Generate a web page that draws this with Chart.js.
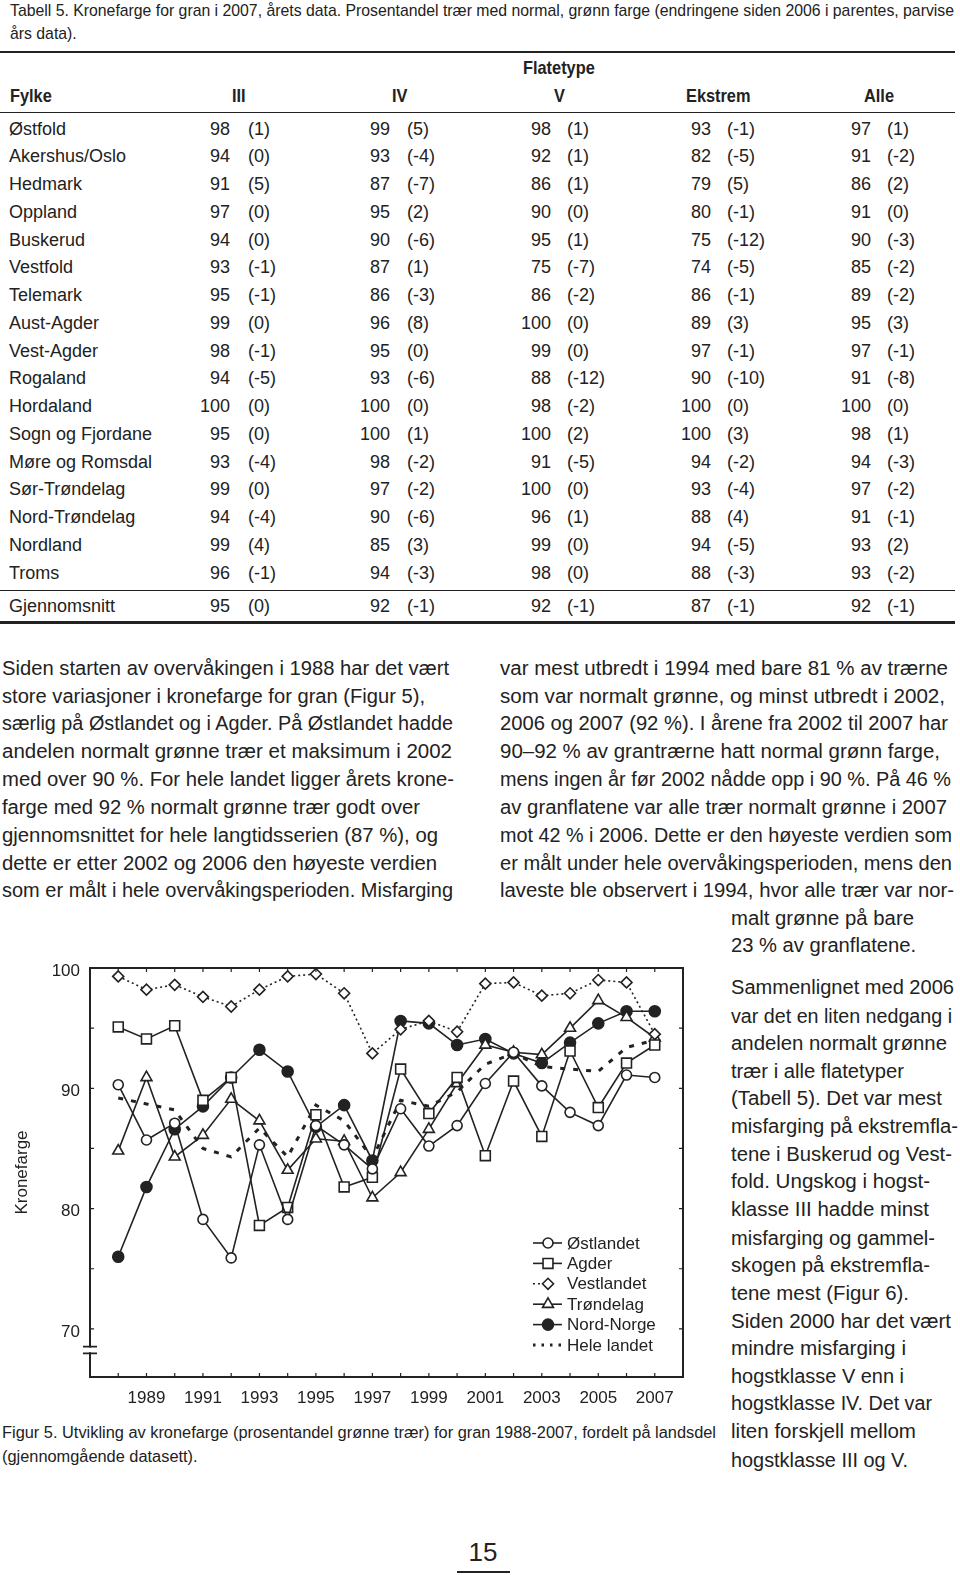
<!DOCTYPE html>
<html>
<head>
<meta charset="utf-8">
<title>Kronefarge for gran</title>
<script src="https://cdn.jsdelivr.net/npm/chart.js@4.4.0/dist/chart.umd.min.js"></script>
<style>
  body { margin: 0; width: 960px; height: 1575px; position: relative; background: #fff;
         font-family: "Liberation Sans", Arial, sans-serif; color: #222; overflow: hidden; }
  .l { position: absolute; white-space: nowrap; line-height: 1; transform-origin: 0 50%; }
  .rule { position: absolute; left: 0; width: 955px; background: #222; }
  #chartBox { position: absolute; left: 0; top: 940px; width: 700px; height: 480px; }
</style>
</head>
<body>
<div class="rule" style="top:51px;height:2px"></div>
<div class="rule" style="top:112px;height:1px"></div>
<div class="rule" style="top:590px;height:1px"></div>
<div class="rule" style="top:621px;height:2.5px"></div>
<div style="position:absolute;left:457px;top:1571px;width:53px;height:2px;background:#222"></div>
<div id="chartBox"><canvas id="kroneChart" width="700" height="480"></canvas></div>

<script>
// Figur 5: kronefarge (% grønne trær), 1988-2007
const years = [1988, 1989, 1990, 1991, 1992, 1993, 1994, 1995, 1996, 1997,
               1998, 1999, 2000, 2001, 2002, 2003, 2004, 2005, 2006, 2007];
const ostlandet  = [90.3, 85.7, 87.1, 79.1, 75.9, 85.3, 79.1, 86.9, 85.3, 83.3, 88.3, 85.2, 86.9, 90.4, 93.0, 90.2, 88.0, 86.9, 91.1, 90.9];
const agder      = [95.1, 94.1, 95.2, 89.0, 90.9, 78.6, 80.1, 87.8, 81.8, 82.6, 91.6, 87.9, 90.9, 84.4, 90.6, 86.0, 93.1, 88.4, 92.1, 93.6];
const vestlandet = [99.3, 98.2, 98.6, 97.6, 96.8, 98.2, 99.3, 99.5, 97.9, 92.9, 94.9, 95.6, 94.7, 98.7, 98.8, 97.7, 97.9, 99.0, 98.8, 94.5];
const trondelag  = [84.8, 90.9, 84.3, 86.1, 89.1, 87.3, 83.2, 85.8, 85.6, 80.9, 83.0, 86.6, 90.4, 93.6, 93.0, 92.8, 95.0, 97.3, 95.9, 94.2];
const nordNorge  = [76.0, 81.8, 86.6, 88.5, 90.9, 93.2, 91.4, 86.8, 88.6, 84.0, 95.6, 95.4, 93.6, 94.1, 92.9, 92.1, 93.8, 95.4, 96.4, 96.4];
const heleLandet = [89.2, 88.7, 88.2, 85.0, 84.3, 86.7, 84.3, 88.6, 87.3, 84.2, 89.0, 88.5, 89.7, 92.0, 92.9, 91.8, 91.6, 91.4, 93.4, 94.0];
const yTickLabels = [70, 80, 90, 100];
const xTickLabels = [1989, 1991, 1993, 1995, 1997, 1999, 2001, 2003, 2005, 2007];

// Tabell 5
const fylker = ['Østfold', 'Akershus/Oslo', 'Hedmark', 'Oppland', 'Buskerud', 'Vestfold', 'Telemark',
  'Aust-Agder', 'Vest-Agder', 'Rogaland', 'Hordaland', 'Sogn og Fjordane', 'Møre og Romsdal',
  'Sør-Trøndelag', 'Nord-Trøndelag', 'Nordland', 'Troms'];
const verdiIII  = [98, 94, 91, 97, 94, 93, 95, 99, 98, 94, 100, 95, 93, 99, 94, 99, 96];
const endrIII   = [1, 0, 5, 0, 0, -1, -1, 0, -1, -5, 0, 0, -4, 0, -4, 4, -1];
const verdiIV   = [99, 93, 87, 95, 90, 87, 86, 96, 95, 93, 100, 100, 98, 97, 90, 85, 94];
const endrIV    = [5, -4, -7, 2, -6, 1, -3, 8, 0, -6, 0, 1, -2, -2, -6, 3, -3];
const verdiV    = [98, 92, 86, 90, 95, 75, 86, 100, 99, 88, 98, 100, 91, 100, 96, 99, 98];
const endrV     = [1, 1, 1, 0, 1, -7, -2, 0, 0, -12, -2, 2, -5, 0, 1, 0, 0];
const verdiEks  = [93, 82, 79, 80, 75, 74, 86, 89, 97, 90, 100, 100, 94, 93, 88, 94, 88];
const endrEks   = [-1, -5, 5, -1, -12, -5, -1, 3, -1, -10, 0, 3, -2, -4, 4, -5, -3];
const verdiAlle = [97, 91, 86, 91, 90, 85, 89, 95, 97, 91, 100, 98, 94, 97, 91, 93, 93];
const endrAlle  = [1, -2, 2, 0, -3, -2, -2, 3, -1, -8, 0, 1, -3, -2, -1, 2, -2];
const snittVerdi = [95, 92, 92, 87, 92];
const snittEndr  = [0, -1, -1, -1, -1];

const ink = '#222';

function place(txt, x, y, size, opts = {}) {
  const d = document.createElement('div');
  d.className = 'l';
  d.textContent = txt;
  d.style.left = x + 'px';
  d.style.top = y + 'px';
  d.style.fontSize = size + 'px';
  if (opts.bold) d.style.fontWeight = 'bold';
  document.body.appendChild(d);
  let s = opts.scale || 1;
  const w = d.getBoundingClientRect().width;
  if (opts.w) s = opts.w / w;
  if (opts.align === 'right') d.style.left = (x - w * s) + 'px';
  if (opts.align === 'center') d.style.left = (x - w * s / 2) + 'px';
  d.style.transform = `translateY(-50%) scaleX(${s})`;
  return s;
}

// caption
const capScale = place('Tabell 5. Kronefarge for gran i 2007, årets data. Prosentandel trær med normal, grønn farge (endringene siden 2006 i parentes, parvise', 10, 10, 17, { w: 944 });
place('års data).', 10, 33, 17, { scale: capScale });

// table
place('Flatetype', 559, 67, 19, { bold: true, scale: 0.86, align: 'center' });
place('Fylke', 10, 95, 19, { bold: true, scale: 0.86 });
[['III', 239], ['IV', 400], ['V', 559], ['Ekstrem', 718], ['Alle', 879]].forEach(([t, x]) =>
  place(t, x, 95, 19, { bold: true, scale: 0.86, align: 'center' }));

const numRight = [230, 390, 551, 711, 871];
const parLeft = [248, 407, 567, 727, 887];
const cols = [[verdiIII, endrIII], [verdiIV, endrIV], [verdiV, endrV], [verdiEks, endrEks], [verdiAlle, endrAlle]];
fylker.forEach((f, i) => {
  const y = 128.6 + i * 27.75;
  place(f, 9, y, 18);
  cols.forEach(([v, e], c) => {
    place(String(v[i]), numRight[c], y, 18, { align: 'right' });
    place('(' + e[i] + ')', parLeft[c], y, 18);
  });
});
place('Gjennomsnitt', 9, 606, 18);
snittVerdi.forEach((v, c) => {
  place(String(v), numRight[c], 606, 18, { align: 'right' });
  place('(' + snittEndr[c] + ')', parLeft[c], 606, 18);
});

// body text: [text, x, y, endX]
const bodyLines = [
  ['Siden starten av overvåkingen i 1988 har det vært', 2, 668, 449],
  ['store variasjoner i kronefarge for gran (Figur 5),', 2, 695.5, 425],
  ['særlig på Østlandet og i Agder. På Østlandet hadde', 2, 723, 453],
  ['andelen normalt grønne trær et maksimum i 2002', 2, 751, 452],
  ['med over 90 %. For hele landet ligger årets krone-', 2, 779, 454],
  ['farge med 92 % normalt grønne trær godt over', 2, 807, 420],
  ['gjennomsnittet for hele langtidsserien (87 %), og', 2, 835, 438],
  ['dette er etter 2002 og 2006 den høyeste verdien', 2, 863, 437],
  ['som er målt i hele overvåkingsperioden. Misfarging', 2, 890, 453],
  ['var mest utbredt i 1994 med bare 81 % av trærne', 500, 668, 948],
  ['som var normalt grønne, og minst utbredt i 2002,', 500, 695.5, 945],
  ['2006 og 2007 (92 %). I årene fra 2002 til 2007 har', 500, 723, 948],
  ['90–92 % av grantrærne hatt normal grønn farge,', 500, 751, 940],
  ['mens ingen år før 2002 nådde opp i 90 %. På 46 %', 500, 779, 951],
  ['av granflatene var alle trær normalt grønne i 2007', 500, 807, 947],
  ['mot 42 % i 2006. Dette er den høyeste verdien som', 500, 835, 952],
  ['er målt under hele overvåkingsperioden, mens den', 500, 863, 952],
  ['laveste ble observert i 1994, hvor alle trær var nor-', 500, 890, 954],
  ['malt grønne på bare', 731, 918, 914],
  ['23 % av granflatene.', 731, 945, 916],
  ['Sammenlignet med 2006', 731, 987, 954],
  ['var det en liten nedgang i', 731, 1015.5, 952],
  ['andelen normalt grønne', 731, 1043, 947],
  ['trær i alle flatetyper', 731, 1071, 904],
  ['(Tabell 5). Det var mest', 731, 1098, 942],
  ['misfarging på ekstremfla-', 731, 1126, 958],
  ['tene i Buskerud og Vest-', 731, 1154, 952],
  ['fold. Ungskog i hogst-', 731, 1181, 930],
  ['klasse III hadde minst', 731, 1209, 929],
  ['misfarging og gammel-', 731, 1237.5, 935],
  ['skogen på ekstremfla-', 731, 1265, 930],
  ['tene mest (Figur 6).', 731, 1293, 909],
  ['Siden 2000 har det vært', 731, 1321, 951],
  ['mindre misfarging i', 731, 1348, 906],
  ['hogstklasse V enn i', 731, 1376, 904],
  ['hogstklasse IV. Det var', 731, 1403, 932],
  ['liten forskjell mellom', 731, 1431, 916],
  ['hogstklasse III og V.', 731, 1459.5, 908]
];
bodyLines.forEach(([t, x, y, e]) => place(t, x, y, 20, { w: e - x }));

const figScale = place('Figur 5. Utvikling av kronefarge (prosentandel grønne trær) for gran 1988-2007, fordelt på landsdel', 2, 1433, 16, { w: 714 });
place('(gjennomgående datasett).', 2, 1457, 16, { scale: figScale });
place('15', 483, 1552, 26, { align: 'center' });

// chart
const pts = vals => vals.map((v, i) => ({ x: years[i], y: v }));
const series = [
  { label: 'Østlandet', data: ostlandet, style: 'circle', r: 5, fill: '#fff' },
  { label: 'Agder', data: agder, style: 'rect', r: 7, fill: '#fff' },
  { label: 'Vestlandet', data: vestlandet, style: 'rectRot', r: 5.5, fill: '#fff', dash: [2, 3] },
  { label: 'Trøndelag', data: trondelag, style: 'triangle', r: 6.3, fill: '#fff' },
  { label: 'Nord-Norge', data: nordNorge, style: 'circle', r: 5.5, fill: ink },
  { label: 'Hele landet', data: heleLandet, style: false, r: 0, fill: ink, dash: [5, 8], width: 3 }
];

const framePlugin = {
  id: 'frame',
  afterDraw(chart) {
    const { ctx, chartArea: a, scales: { x, y } } = chart;
    ctx.save();
    ctx.strokeStyle = ink;
    ctx.lineWidth = 2;
    const b1 = y.getPixelForValue(68.45), b2 = y.getPixelForValue(68.05);
    ctx.beginPath();
    ctx.moveTo(a.left, b1);
    ctx.lineTo(a.left, a.top);
    ctx.lineTo(a.right, a.top);
    ctx.lineTo(a.right, a.bottom);
    ctx.lineTo(a.left, a.bottom);
    ctx.lineTo(a.left, b2);
    ctx.stroke();
    ctx.lineWidth = 1.8;
    ctx.beginPath();
    ctx.moveTo(a.left - 7, b1 - 1); ctx.lineTo(a.left + 7, b1 - 1);
    ctx.moveTo(a.left - 7, b2 + 1); ctx.lineTo(a.left + 7, b2 + 1);
    ctx.stroke();
    ctx.lineWidth = 1.2;
    ctx.beginPath();
    x.ticks.forEach(t => {
      if (t.value <= x.min || t.value >= x.max) return;
      const px = x.getPixelForValue(t.value);
      ctx.moveTo(px, a.top); ctx.lineTo(px, a.top + 4);
      ctx.moveTo(px, a.bottom); ctx.lineTo(px, a.bottom - 4);
    });
    y.ticks.forEach(t => {
      if (t.value % 5 !== 0 || t.value >= y.max) return;
      const py = y.getPixelForValue(t.value);
      ctx.moveTo(a.left, py); ctx.lineTo(a.left + 4, py);
      ctx.moveTo(a.right, py); ctx.lineTo(a.right - 4, py);
    });
    ctx.stroke();
    ctx.restore();
  }
};

const legendPlugin = {
  id: 'boxLegend',
  afterDraw(chart) {
    const { ctx, chartArea: a } = chart;
    ctx.save();
    ctx.font = '17px "Liberation Sans", Arial, sans-serif';
    ctx.textBaseline = 'middle';
    series.forEach((s, i) => {
      const yy = a.bottom - 134 + i * 20.4;
      const x0 = a.right - 150, x1 = a.right - 121, xm = a.right - 135;
      ctx.strokeStyle = ink;
      if (s.label === 'Hele landet') {
        ctx.lineWidth = 3; ctx.setLineDash([2.5, 6]);
        ctx.beginPath(); ctx.moveTo(x0, yy); ctx.lineTo(x1 + 2, yy); ctx.stroke();
      } else if (s.dash) {
        ctx.lineWidth = 1.5; ctx.setLineDash(s.dash);
        ctx.beginPath(); ctx.moveTo(x0, yy); ctx.lineTo(xm - 6, yy); ctx.stroke();
      } else {
        ctx.lineWidth = 1.6; ctx.setLineDash([]);
        ctx.beginPath(); ctx.moveTo(x0, yy); ctx.lineTo(x1, yy); ctx.stroke();
      }
      ctx.setLineDash([]);
      if (s.r > 0) {
        ctx.fillStyle = s.fill;
        ctx.lineWidth = 1.6;
        Chart.helpers.drawPoint(ctx, { pointStyle: s.style, radius: s.r, borderWidth: 1.6, rotation: 0 }, xm, yy);
      }
      ctx.fillStyle = ink;
      ctx.fillText(s.label, a.right - 116, yy + 1);
    });
    ctx.restore();
  }
};

new Chart(document.getElementById('kroneChart'), {
  type: 'line',
  data: {
    datasets: series.map(s => ({
      label: s.label,
      data: pts(s.data),
      borderColor: ink,
      borderWidth: s.width || 1.6,
      borderDash: s.dash || [],
      pointStyle: s.style,
      pointRadius: s.r,
      pointBackgroundColor: s.fill,
      pointBorderColor: ink,
      pointBorderWidth: 1.6,
      tension: 0,
      fill: false
    }))
  },
  options: {
    responsive: false,
    animation: false,
    layout: { padding: { top: 28, right: 17, left: 0, bottom: 0 } },
    plugins: { legend: { display: false }, tooltip: { enabled: false } },
    scales: {
      x: {
        type: 'linear', min: 1987, max: 2008,
        grid: { display: false, drawTicks: false },
        border: { display: false },
        afterFit: s => { s.height = 43; },
        ticks: {
          stepSize: 1, autoSkip: false, maxRotation: 0, padding: 11,
          color: ink, font: { size: 17, family: '"Liberation Sans", Arial, sans-serif' },
          callback: v => xTickLabels.includes(v) ? String(v) : ''
        }
      },
      y: {
        min: 66, max: 100,
        grid: { display: false, drawTicks: false },
        border: { display: false },
        afterFit: s => { s.width = 90; },
        title: { display: true, text: 'Kronefarge', color: ink, padding: { top: 12, bottom: 0 },
                 font: { size: 17, family: '"Liberation Sans", Arial, sans-serif' } },
        ticks: {
          stepSize: 5, padding: 10, labelOffset: 3, color: ink,
          font: { size: 17, family: '"Liberation Sans", Arial, sans-serif' },
          callback: v => yTickLabels.includes(v) ? String(v) : ''
        }
      }
    }
  },
  plugins: [framePlugin, legendPlugin]
});
</script>
</body>
</html>
